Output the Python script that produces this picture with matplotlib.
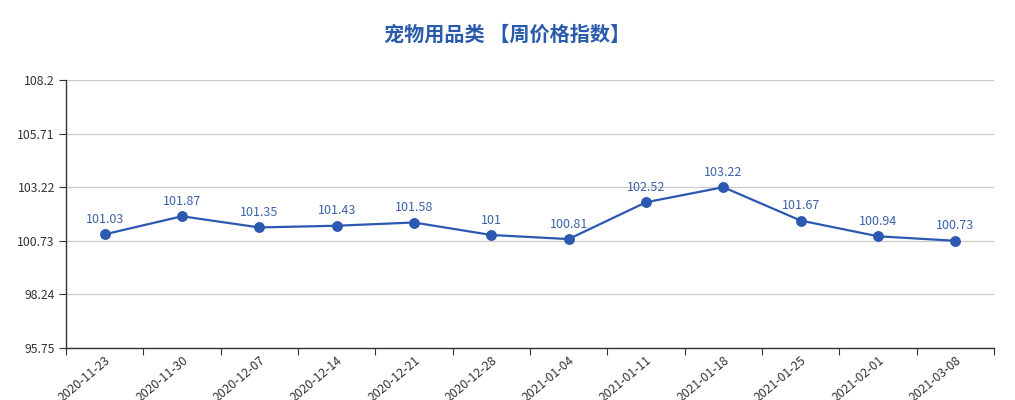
import numpy as np
import matplotlib.pyplot as plt

plt.rcParams['font.family'] = ['Noto Sans CJK SC', 'DejaVu Sans']

# data
dates = ['2020-11-23', '2020-11-30', '2020-12-07', '2020-12-14', '2020-12-21', '2020-12-28',
         '2021-01-04', '2021-01-11', '2021-01-18', '2021-01-25', '2021-02-01', '2021-03-08']
values = [101.03, 101.87, 101.35, 101.43, 101.58, 101.00,
          100.81, 102.52, 103.22, 101.67, 100.94, 100.73]
value_labels = ['101.03', '101.87', '101.35', '101.43', '101.58', '101',
                '100.81', '102.52', '103.22', '101.67', '100.94', '100.73']
yticks = [95.75, 98.24, 100.73, 103.22, 105.71, 108.2]

blue = '#2b58b0'

fig = plt.figure(figsize=(10.15, 4), dpi=100)
ax = fig.add_axes([0.065, 0.13, 0.9143, 0.67])

x = np.arange(len(dates))
ax.plot(x, values, color=blue, lw=1.6, marker='o', ms=6.8, zorder=3)
for xi, v, lab in zip(x, values, value_labels):
    ax.annotate(lab, (xi, v), xytext=(0, 6), textcoords='offset points',
                ha='center', va='bottom', fontsize=9, color='#3d62a8')

ax.set_xlim(-0.5, len(dates) - 0.5)
ax.set_ylim(yticks[0], yticks[-1])
ax.set_yticks(yticks)
ax.set_yticklabels([f'{t:g}' for t in yticks], fontsize=8.8, color='#333333')
ax.grid(axis='y', color='#cccccc', lw=0.9)
ax.set_axisbelow(True)

# ticks at category boundaries, labels at centres
ax.set_xticks(np.arange(-0.5, len(dates), 1.0))
ax.set_xticklabels([])
ax.set_xticks(x, minor=True)
ax.set_xticklabels(dates, minor=True, rotation=40, ha='right', rotation_mode='anchor',
                   fontsize=8.8, color='#333333')
ax.tick_params(axis='x', which='minor', length=0, pad=4)
ax.tick_params(axis='x', which='major', length=5, color='#333333')
ax.tick_params(axis='y', length=5, color='#333333', pad=3)

for s in ['top', 'right']:
    ax.spines[s].set_visible(False)
for s in ['left', 'bottom']:
    ax.spines[s].set_color('#333333')
    ax.spines[s].set_linewidth(1)

fig.text(0.5, 0.915, '宠物用品类 【周价格指数】', ha='center', va='center',
         fontsize=14.5, fontweight='bold', color='#2a5aab')

plt.savefig('out.png')
